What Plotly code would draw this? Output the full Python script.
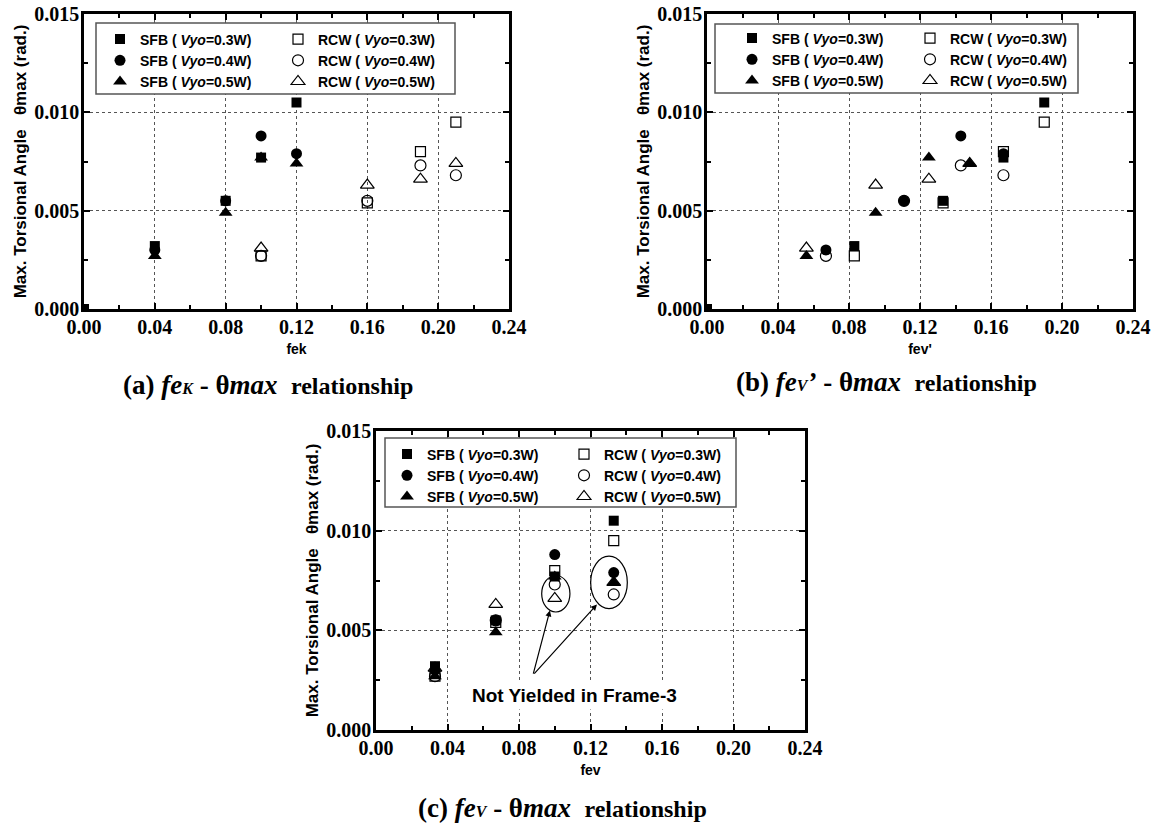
import plotly.graph_objects as go

# ---------------- data ----------------
load_labels = ["0.3W", "0.4W", "0.5W"]

# theta_max (rad.) values, same specimens in every panel
sfb_theta_03 = [0.0032, 0.0055, 0.0077, 0.0105]
sfb_theta_04 = [0.0030, 0.0055, 0.0088, 0.0079]
sfb_theta_05 = [0.0027, 0.0049, 0.0077, 0.0074]
rcw_theta_03 = [0.0027, 0.0054, 0.0080, 0.0095]
rcw_theta_04 = [0.0027, 0.0055, 0.0073, 0.0068]
rcw_theta_05 = [0.0031, 0.0063, 0.0066, 0.0074]

# (a) fek
sfb_fek = [0.04, 0.08, 0.10, 0.12]
rcw_fek = [0.10, 0.16, 0.19, 0.21]
# (b) fev'
fevp_03 = [0.083, 0.133, 0.167, 0.190]
fevp_04 = [0.067, 0.111, 0.143, 0.167]
fevp_05 = [0.056, 0.095, 0.125, 0.148]
# (c) fev
fev_all = [0.033, 0.067, 0.100, 0.133]

origin_x = [0.0]
origin_y = [0.0]

x_ticks = [0.00, 0.04, 0.08, 0.12, 0.16, 0.20, 0.24]
y_ticks = [0.000, 0.005, 0.010, 0.015]

# ---------------- figure ----------------
W, H = 1155, 826
fig = go.Figure()


def px(v):
    return v / W


def py(v):
    return 1 - v / H


sfb_theta = [sfb_theta_03, sfb_theta_04, sfb_theta_05]
rcw_theta = [rcw_theta_03, rcw_theta_04, rcw_theta_05]
sfb_sym = [("square", 10), ("circle", 11), ("triangle-up", 12)]
rcw_sym = [("square-open", 10), ("circle-open", 11), ("triangle-up-open", 12)]

panels = [
    ("x", "y", "legend", "legend2",
     [origin_x + sfb_fek, sfb_fek, sfb_fek], [rcw_fek, rcw_fek, rcw_fek], True),
    ("x2", "y2", "legend3", "legend4",
     [origin_x + fevp_03, fevp_04, fevp_05], [fevp_03, fevp_04, fevp_05], True),
    ("x3", "y3", "legend5", "legend6",
     [fev_all, fev_all, fev_all], [fev_all, fev_all, fev_all], False),
]

for xa, ya, lg_s, lg_r, sfb_x, rcw_x, with_origin in panels:
    for i, lab in enumerate(load_labels):
        fig.add_trace(go.Scatter(
            x=rcw_x[i], y=rcw_theta[i], mode="markers", xaxis=xa, yaxis=ya, legend=lg_r,
            name="<b>RCW ( <i>Vyo</i>=" + lab + ")</b>", legendrank=i + 1,
            marker=dict(symbol=rcw_sym[i][0], size=rcw_sym[i][1], color="black",
                        line=dict(width=1.2, color="black")),
        ))
    for i, lab in enumerate(load_labels):
        sy = sfb_theta[i]
        if i == 0 and with_origin:
            sy = origin_y + sy
        fig.add_trace(go.Scatter(
            x=sfb_x[i], y=sy, mode="markers", xaxis=xa, yaxis=ya, legend=lg_s,
            name="<b>SFB ( <i>Vyo</i>=" + lab + ")</b>", legendrank=i + 1,
            marker=dict(symbol=sfb_sym[i][0], size=sfb_sym[i][1], color="black",
                        line=dict(width=0)),
        ))

tickfont = dict(family="Liberation Serif, Times New Roman, serif", size=20,
                color="black", weight="bold")
titlefont = dict(family="Liberation Sans", size=14, color="black", weight="bold")


def xaxis(domain, anchor, title):
    return dict(
        domain=domain, anchor=anchor, range=[0, 0.24], tickvals=x_ticks,
        tickformat=".2f", showline=True, linewidth=2.5, linecolor="black",
        mirror="ticks", ticks="inside", ticklen=6, tickwidth=2, tickcolor="black",
        showgrid=True, gridcolor="#555", griddash="dot", gridwidth=1, zeroline=False,
        minor=dict(dtick=0.02, ticks="inside", ticklen=4, tickwidth=2,
                   tickcolor="black", showgrid=False),
        tickfont=tickfont, automargin=False, ticklabelstandoff=-2,
        title=dict(text=title, font=titlefont, standoff=8),
    )


def yaxis(domain, anchor):
    return dict(
        domain=domain, anchor=anchor, range=[0, 0.015], tickvals=y_ticks,
        tickformat=".3f", showline=True, linewidth=2.5, linecolor="black",
        mirror="ticks", ticks="inside", ticklen=6, tickwidth=2, tickcolor="black",
        showgrid=True, gridcolor="#555", griddash="dot", gridwidth=1, zeroline=False,
        minor=dict(dtick=0.0025, ticks="inside", ticklen=4, tickwidth=2,
                   tickcolor="black", showgrid=False),
        tickfont=tickfont, automargin=False, ticklabelstandoff=-2,
        title=dict(text="Max. Torsional Angle \u00a0 \u03b8max (rad.)",
                   font=dict(family="Liberation Sans", size=17, color="black", weight="bold"),
                   standoff=4),
    )


dom_top = [py(309), py(14)]
dom_bot = [py(730), py(431)]

legend_common = dict(
    orientation="v", borderwidth=0, bgcolor="rgba(0,0,0,0)",
    font=dict(family="Liberation Sans", size=14, color="black"),
    xanchor="left", yanchor="top", itemclick=False, traceorder="normal",
)

fig.update_layout(
    width=W, height=H, margin=dict(l=0, r=0, t=0, b=0),
    paper_bgcolor="white", plot_bgcolor="white",
    xaxis=xaxis([px(84), px(509)], "y", "fek"),
    yaxis=yaxis(dom_top, "x"),
    xaxis2=xaxis([px(707), px(1133)], "y2", "fev'"),
    yaxis2=yaxis(dom_top, "x2"),
    xaxis3=xaxis([px(376), px(805)], "y3", "fev"),
    yaxis3=yaxis(dom_bot, "x3"),
    legend=dict(legend_common, x=px(100), y=py(23.5)),
    legend2=dict(legend_common, x=px(278), y=py(23.5)),
    legend3=dict(legend_common, x=px(732), y=py(22.5)),
    legend4=dict(legend_common, x=px(910), y=py(22.5)),
    legend5=dict(legend_common, x=px(387), y=py(438.5)),
    legend6=dict(legend_common, x=px(564), y=py(438.5)),
)

# legend frames (white filled so grid lines do not show through)
for x0, y0, x1, y1 in [(96, 23, 455, 94), (715, 24, 1078, 93), (385, 438, 736, 507)]:
    fig.add_shape(type="rect", xref="paper", yref="paper", x0=px(x0), x1=px(x1),
                  y0=py(y1), y1=py(y0), line=dict(color="#555", width=1.5),
                  fillcolor="white", layer="above")

# ellipses in (c)
fig.add_shape(type="circle", xref="x3", yref="y3", x0=0.0927, x1=0.1085,
              y0=0.00592, y1=0.00775, line=dict(color="black", width=1.2))
fig.add_shape(type="circle", xref="x3", yref="y3", x0=0.1201, x1=0.1406,
              y0=0.00609, y1=0.00872, line=dict(color="black", width=1.2))

# arrows
for tx, ty in [(0.0973, 0.0060), (0.1236, 0.0063)]:
    fig.add_annotation(x=tx, y=ty, xref="x3", yref="y3", ax=0.0878, ay=0.00275,
                       axref="x3", ayref="y3", text="", showarrow=True,
                       arrowhead=2, arrowsize=1, arrowwidth=1.2, arrowcolor="black")

fig.add_annotation(x=0.1113, y=0.00175, xref="x3", yref="y3",
                   text="<b>Not Yielded in Frame-3</b>", showarrow=False,
                   bgcolor="white", borderpad=3,
                   font=dict(family="Liberation Sans", size=19, color="black"))

cap_font = dict(family="Liberation Serif", size=27, color="black")
rel = "<span style='font-size:24px'>relationship</span>"
captions = [
    (268, 385, "<b>(a) <i>fe<span style='font-size:16px'>K</span></i> - \u03b8<i>max</i> \u00a0" + rel + "</b>"),
    (886, 382, "<b>(b) <i>fe<span style='font-size:16px'>V</span>\u2019</i> - \u03b8<i>max</i> \u00a0" + rel + "</b>"),
    (562, 808, "<b>(c) <i>fe<span style='font-size:16px'>V</span></i> - \u03b8<i>max</i> \u00a0" + rel + "</b>"),
]
for cx, cy, txt in captions:
    fig.add_annotation(x=px(cx), y=py(cy), xref="paper", yref="paper", text=txt,
                       showarrow=False, xanchor="center", yanchor="middle", font=cap_font)

fig.write_html("out.html")
